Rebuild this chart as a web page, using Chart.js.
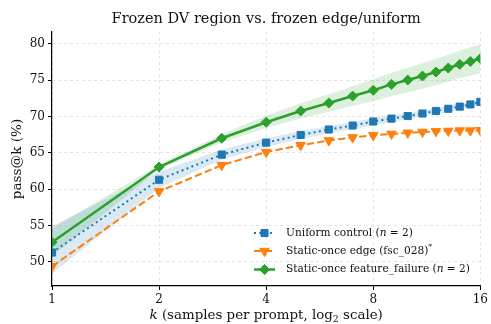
<!DOCTYPE html>
<html>
<head>
<meta charset="utf-8">
<script src="https://cdn.jsdelivr.net/npm/chart.js@4/dist/chart.umd.min.js"></script>
<style>
  html, body { margin: 0; padding: 0; background: #fff; }
  #wrap { width: 491px; height: 324px; }
</style>
</head>
<body>
<div id="wrap"><canvas id="c" width="491" height="324"></canvas></div>
<script>
// samples per prompt
const kValues = [1, 2, 3, 4, 5, 6, 7, 8, 9, 10, 11, 12, 13, 14, 15, 16];
const xTicks = [1, 2, 4, 8, 16];
const yTicks = [50, 55, 60, 65, 70, 75, 80];

// Uniform control (n = 2)
const uniformMean = [51.3, 61.3, 64.75, 66.4, 67.45, 68.2, 68.75, 69.3, 69.7, 70.05, 70.4, 70.75, 71.05, 71.35, 71.65, 72.0];
const uniformLo = [48.4, 60.2, 64.05, 65.8, 66.9, 67.7, 68.25, 68.8, 69.25, 69.6, 69.95, 70.3, 70.6, 70.95, 71.25, 71.6];
const uniformHi = [54.9, 62.4, 65.45, 67.0, 68.0, 68.7, 69.25, 69.8, 70.15, 70.5, 70.85, 71.2, 71.5, 71.75, 72.05, 72.4];

// Static-once edge (fsc_028)
const edgeMean = [49.4, 59.7, 63.3, 65.1, 66.05, 66.7, 67.1, 67.4, 67.6, 67.75, 67.85, 67.95, 68.0, 68.05, 68.05, 68.1];

// Static-once feature_failure (n = 2)
const featureMean = [52.7, 63.05, 67.0, 69.2, 70.75, 71.85, 72.8, 73.6, 74.4, 75.0, 75.55, 76.1, 76.65, 77.15, 77.55, 77.95];
const featureLo = [50.8, 62.75, 66.4, 68.4, 69.7, 70.65, 71.45, 72.1, 72.8, 73.3, 73.8, 74.3, 74.8, 75.25, 75.6, 75.95];
const featureHi = [54.6, 63.35, 67.6, 70.1, 71.8, 73.05, 74.15, 75.1, 76.0, 76.7, 77.3, 77.9, 78.5, 79.05, 79.5, 79.95];

const BLUE = '#1f77b4', ORANGE = '#ff7f0e', GREEN = '#2ca02c';
const SERIF = '"DejaVu Serif", "Liberation Serif", serif';

const pts = arr => arr.map((v, i) => ({ x: kValues[i], y: v }));

// rich text: parts = [{t, italic, sub, sup}]
function drawRich(ctx, parts, x, y, size, align) {
  const fontFor = p => (p.italic ? 'italic ' : '') + ((p.sub || p.sup) ? size * 0.7 : size) + 'px ' + SERIF;
  let total = 0;
  parts.forEach(p => { ctx.font = fontFor(p); total += ctx.measureText(p.t).width; });
  let cx = align === 'center' ? x - total / 2 : x;
  ctx.textAlign = 'left';
  ctx.textBaseline = 'middle';
  parts.forEach(p => {
    ctx.font = fontFor(p);
    const dy = p.sub ? size * 0.3 : (p.sup ? -size * 0.4 : 0);
    ctx.fillText(p.t, cx, y + dy);
    cx += ctx.measureText(p.t).width;
  });
}

const decor = {
  id: 'decor',
  afterDraw(chart) {
    const ctx = chart.ctx;
    const area = chart.chartArea;
    ctx.save();
    ctx.fillStyle = '#111';

    // title
    ctx.font = '14.5px ' + SERIF;
    ctx.textAlign = 'center';
    ctx.textBaseline = 'middle';
    ctx.fillText('Frozen DV region vs. frozen edge/uniform', (area.left + area.right) / 2, 19);

    // x label
    drawRich(ctx, [
      { t: 'k', italic: true },
      { t: ' (samples per prompt, log' },
      { t: '2', sub: true },
      { t: ' scale)' }
    ], (area.left + area.right) / 2, 316, 13.4, 'center');

    // y label
    ctx.save();
    ctx.translate(17, (area.top + area.bottom) / 2);
    ctx.rotate(-Math.PI / 2);
    ctx.font = '13.6px ' + SERIF;
    ctx.textAlign = 'center';
    ctx.textBaseline = 'middle';
    ctx.fillText('pass@k (%)', 0, 0);
    ctx.restore();

    // legend
    const items = [
      { color: BLUE, dash: [2, 3.3], style: 'rect', r: 5, rot: 0, width: 2,
        parts: [{ t: 'Uniform control (' }, { t: 'n', italic: true }, { t: ' = 2)' }] },
      { color: ORANGE, dash: [7.4, 3.2], style: 'triangle', r: 5.5, rot: 180, width: 2,
        parts: [{ t: 'Static-once edge (fsc_028)' }, { t: '*', sup: true }] },
      { color: GREEN, dash: [], style: 'rectRot', r: 5, rot: 0, width: 2.5,
        parts: [{ t: 'Static-once feature_failure (' }, { t: 'n', italic: true }, { t: ' = 2)' }] }
    ];
    const lx0 = 254, lx1 = 275, tx = 286;
    const ys = [233, 251, 269.5];
    items.forEach((it, i) => {
      const y = ys[i];
      ctx.save();
      ctx.strokeStyle = it.color;
      ctx.lineWidth = it.width;
      ctx.setLineDash(it.dash);
      ctx.beginPath();
      ctx.moveTo(lx0, y);
      ctx.lineTo(lx1, y);
      ctx.stroke();
      ctx.setLineDash([]);
      ctx.fillStyle = it.color;
      ctx.strokeStyle = it.color;
      ctx.lineWidth = 1;
      Chart.helpers.drawPoint(ctx, { pointStyle: it.style, radius: it.r, rotation: it.rot, borderWidth: 1 }, (lx0 + lx1) / 2, y);
      ctx.restore();
      ctx.fillStyle = '#111';
      drawRich(ctx, it.parts, tx, y, 10.6, 'left');
    });
    ctx.restore();
  }
};

const band = (lo, hi, color, loIndex) => [
  { label: '_lo', data: pts(lo), borderWidth: 0, pointRadius: 0, fill: false, order: 10, borderColor: 'transparent' },
  { label: '_hi', data: pts(hi), borderWidth: 0, pointRadius: 0, fill: { target: loIndex }, backgroundColor: color, order: 10, borderColor: 'transparent' }
];

const datasets = [
  ...band(uniformLo, uniformHi, 'rgba(31,119,180,0.16)', 0),
  ...band(featureLo, featureHi, 'rgba(44,160,44,0.16)', 2),
  {
    label: 'Uniform control (n = 2)',
    data: pts(uniformMean),
    borderColor: BLUE, backgroundColor: BLUE,
    borderWidth: 2, borderDash: [2, 3.3],
    pointStyle: 'rect', pointRadius: 5, pointBorderWidth: 1,
    fill: false, order: 3
  },
  {
    label: 'Static-once edge (fsc_028)*',
    data: pts(edgeMean),
    borderColor: ORANGE, backgroundColor: ORANGE,
    borderWidth: 2, borderDash: [7.4, 3.2],
    pointStyle: 'triangle', pointRotation: 180, pointRadius: 5.5, pointBorderWidth: 1,
    fill: false, order: 2
  },
  {
    label: 'Static-once feature_failure (n = 2)',
    data: pts(featureMean),
    borderColor: GREEN, backgroundColor: GREEN,
    borderWidth: 2.5,
    pointStyle: 'rectRot', pointRadius: 5, pointBorderWidth: 1,
    fill: false, order: 1
  }
];

new Chart(document.getElementById('c'), {
  type: 'line',
  data: { datasets },
  plugins: [decor],
  options: {
    responsive: false,
    animation: false,
    devicePixelRatio: 1,
    layout: { padding: { top: 32, right: 7, left: 0, bottom: 0 } },
    plugins: {
      legend: { display: false },
      title: { display: false },
      tooltip: { enabled: false }
    },
    elements: { line: { tension: 0 } },
    scales: {
      x: {
        type: 'logarithmic',
        min: 1, max: 16,
        afterBuildTicks: s => { s.ticks = xTicks.map(v => ({ value: v })); },
        afterFit: s => { s.height = 38; },
        ticks: {
          autoSkip: false, maxRotation: 0, padding: 3,
          color: '#111', font: { family: SERIF, size: 12 },
          callback: v => String(v)
        },
        grid: { color: '#dcdcdc', lineWidth: 0.8, tickColor: '#000', tickLength: 4, tickWidth: 1 },
        border: { display: true, color: '#000', width: 1.2, dash: [3, 3] }
      },
      y: {
        type: 'linear',
        min: 46.7, max: 81.6,
        afterBuildTicks: s => { s.ticks = yTicks.map(v => ({ value: v })); },
        afterFit: s => { s.width = 52; },
        ticks: {
          padding: 3,
          color: '#111', font: { family: SERIF, size: 12 }
        },
        grid: { color: '#dcdcdc', lineWidth: 0.8, tickColor: '#000', tickLength: 4, tickWidth: 1 },
        border: { display: true, color: '#000', width: 1.2, dash: [3, 3] }
      }
    }
  }
});
</script>
</body>
</html>
